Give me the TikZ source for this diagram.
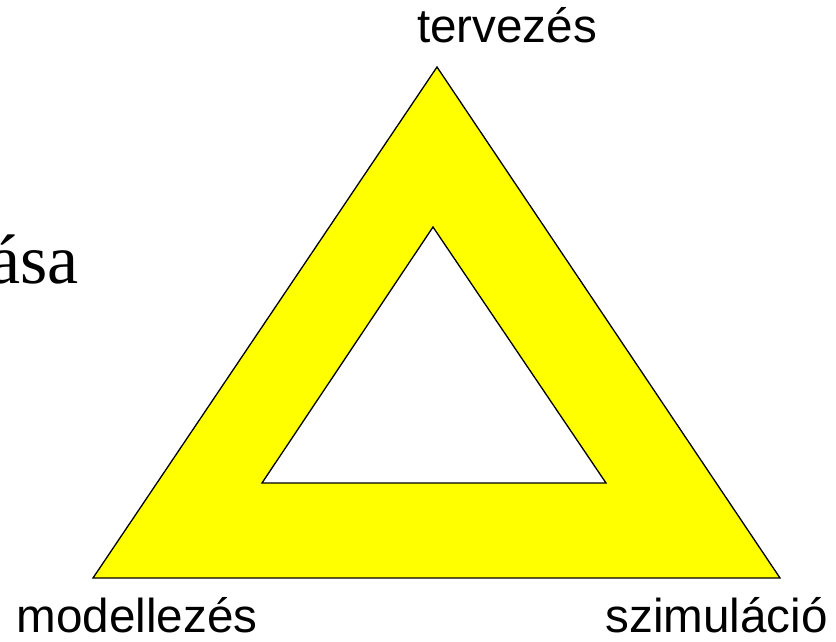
\documentclass[tikz,border=0pt]{standalone}
\usepackage{fontspec}
\setmainfont{Liberation Sans}
\newfontfamily\serifface{Liberation Serif}
\definecolor{tyellow}{RGB}{255,255,0}
\tikzset{
  lbl/.style={inner sep=0pt, font=\fontsize{47.6}{50}\selectfont},
  ring/.style={fill=tyellow, draw=black, line width=1.3pt, even odd rule, line join=miter}
}
\begin{document}
\begin{tikzpicture}[x=1pt,y=-1pt]
\useasboundingbox (0,0) rectangle (836,642);
\coordinate (oa) at (437,67);
\coordinate (ol) at (93,578);
\coordinate (or) at (780,578);
\coordinate (ia) at (433,227);
\coordinate (il) at (262,483);
\coordinate (ir) at (606,483);
\path[ring] (oa) -- (ol) -- (or) -- cycle (ia) -- (il) -- (ir) -- cycle;
\node[lbl, anchor=base] (top) at (507,43) {tervezés};
\node[lbl, anchor=base] (left) at (137,632) {modellezés};
\node[lbl, anchor=base east] (right) at (828,632) {szimuláció};
\node[inner sep=0pt, anchor=base east, font=\serifface\fontsize{70}{74}\selectfont] (cut) at (79,283) {ása};
\end{tikzpicture}
\end{document}
